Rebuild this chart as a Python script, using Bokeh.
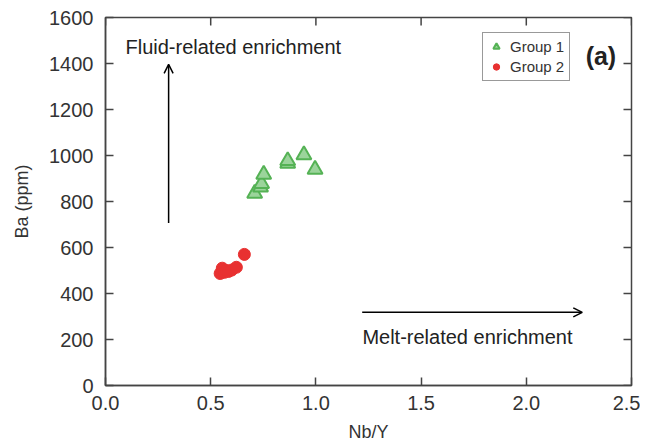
import math
from bokeh.plotting import figure
from bokeh.models import Arrow, OpenHead, Legend, LegendItem, Range1d, FixedTicker
from bokeh.core.properties import value
from bokeh.embed import file_html
from bokeh.resources import INLINE

# Data
g1_x = [0.709, 0.737, 0.742, 0.752, 0.866, 0.866, 0.943, 0.996]
g1_y = [835, 862, 878, 918, 966, 977, 1003, 940]
g2_x = [0.545, 0.555, 0.565, 0.575, 0.585, 0.600, 0.622, 0.660]
g2_y = [487, 510, 492, 500, 496, 502, 514, 570]

x_ticks = [0.0, 0.5, 1.0, 1.5, 2.0, 2.5]
y_ticks = [0, 200, 400, 600, 800, 1000, 1200, 1400, 1600]

fluid_arrow = dict(x_start=0.30, y_start=707, x_end=0.30, y_end=1396)
melt_arrow = dict(x_start=1.22, y_start=318, x_end=2.266, y_end=318)
fluid_label = dict(x=0.095, y=1470, text="Fluid-related enrichment")
melt_label = dict(x=1.221, y=212, text="Melt-related enrichment")
panel_label = dict(x=2.282, y=1431, text="(a)")

FONT = "Liberation Sans"
TXT = "#333333"
AX = "#444444"

p = figure(width=640, height=444, output_backend="svg", toolbar_location=None,
           x_range=Range1d(0, 2.5), y_range=Range1d(0, 1600),
           min_border_left=105, min_border_right=9, min_border_top=17, min_border_bottom=58)
p.grid.visible = False
p.background_fill_color = "white"
p.outline_line_color = AX
p.outline_line_width = 1.5

for ax in (p.xaxis[0], p.yaxis[0]):
    ax.major_tick_in = 8
    ax.major_tick_out = 0
    ax.minor_tick_line_color = None
    ax.axis_line_color = AX
    ax.axis_line_width = 1.5
    ax.major_tick_line_color = AX
    ax.major_tick_line_width = 1.5
    ax.major_label_text_font = FONT
    ax.major_label_text_font_size = "20px"
    ax.major_label_text_color = TXT
    ax.axis_label_text_font = FONT
    ax.axis_label_text_font_size = "18px"
    ax.axis_label_text_color = TXT
    ax.axis_label_text_font_style = "normal"

p.xaxis[0].ticker = FixedTicker(ticks=x_ticks)
p.yaxis[0].ticker = FixedTicker(ticks=y_ticks)
p.xaxis[0].major_label_overrides = {t: f"{t:.1f}" for t in x_ticks}
p.xaxis[0].axis_label = "Nb/Y"
p.yaxis[0].axis_label = "Ba (ppm)"
p.xaxis[0].major_label_standoff = 10
p.yaxis[0].major_label_standoff = 12
p.xaxis[0].axis_label_standoff = 9
p.yaxis[0].axis_label_standoff = 14

# inward ticks on top and right frame edges (dash markers clipped by the frame)
p.scatter(x_ticks, [1600] * len(x_ticks), marker="dash", size=16, angle=math.pi / 2,
          line_color=AX, line_width=1.5)
p.scatter([2.5] * len(y_ticks), y_ticks, marker="dash", size=16,
          line_color=AX, line_width=1.5)

r1 = p.scatter(g1_x, g1_y, marker="triangle", size=15, fill_color="#9bd49b",
               line_color="#55b255", line_width=2)
r2 = p.scatter(g2_x, g2_y, marker="circle", size=12, fill_color="#e83131",
               line_color="#e83131")

p.add_layout(Arrow(end=OpenHead(size=9, line_width=1.5, line_color="black"),
                   line_width=1.5, line_color="black", **fluid_arrow))
p.add_layout(Arrow(end=OpenHead(size=9, line_width=1.5, line_color="black"),
                   line_width=1.5, line_color="black", **melt_arrow))

for lab in (fluid_label, melt_label):
    p.text(x=[lab["x"]], y=[lab["y"]], text=[lab["text"]], text_font=value(FONT),
           text_font_size="20px", text_color="#222222", text_baseline="alphabetic", text_align="left")
p.text(x=[panel_label["x"]], y=[panel_label["y"]], text=[panel_label["text"]], text_font=value(FONT),
       text_font_size="25px", text_font_style="bold", text_color="#222222",
       text_baseline="alphabetic", text_align="left")

legend = Legend(items=[LegendItem(label="Group 1", renderers=[r1]),
                       LegendItem(label="Group 2", renderers=[r2])],
                location=(377, 304))
legend.border_line_color = "#333333"
legend.border_line_width = 1.5
legend.label_text_font = FONT
legend.label_text_font_size = "15px"
legend.label_text_color = TXT
legend.glyph_height = 17
legend.glyph_width = 16
legend.label_height = 17
legend.spacing = 3
legend.padding = 5
legend.margin = 0
legend.label_standoff = 6
p.add_layout(legend, "center")

open("out.html", "w").write(file_html(p, INLINE))
